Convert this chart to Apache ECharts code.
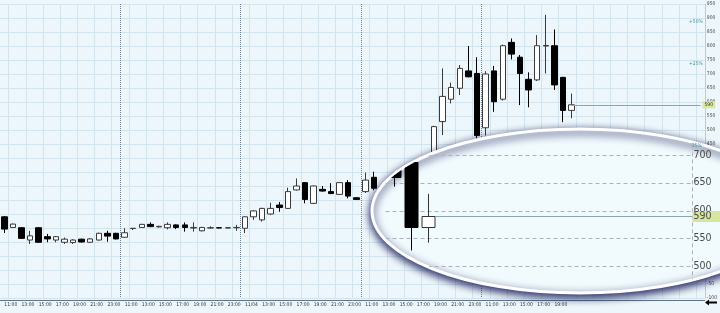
<!DOCTYPE html>
<html><head><meta charset="utf-8">
<script src="https://cdn.jsdelivr.net/npm/echarts@6/dist/echarts.min.js"></script>
<style>html,body{margin:0;padding:0;background:#edf6fa}#c{width:720px;height:313px}</style>
</head><body><div id="c"></div>
<script>
// ---- tick labels ----
const hours = ['11:00','12:00','13:00','14:00','15:00','16:00','17:00','18:00','19:00','20:00','21:00','22:00','23:00','00:00'];
const dayFirstLabel = ['11:00','11:00','11/04','11:00','11:00'];
const barsPerDay = [14,14,14,14,11];
const futureSlots = 15;
// ---- series values (hourly OHLC) ----
const opens = [190,152,151,107,151,119,107,99,98,110,99,107,131,131,
  117,148,152,163,154,151,161,161,150,140,150,151,150,151,
  149,190,179,200,232,220,286,312,238,288,280,270,312,258,
  280,331,292,298,312,330,350,372,398,530,610,649,711,702,
  508,711,610,813,760,681,679,800,801,688,570];
const closes = [146,164,113,122,99,111,119,110,107,100,111,131,121,111,
  133,149,163,155,156,163,152,152,152,152,151,150,151,152,
  190,211,220,220,223,280,300,252,300,282,273,312,264,252,
  321,292,298,312,330,350,372,395,512,620,652,720,690,480,
  700,601,801,771,702,643,801,802,661,570,590];
const lows = [132,150,111,93,97,99,99,93,93,98,97,105,101,109,
  115,143,150,153,152,145,146,137,137,138,148,149,149,140,
  132,179,173,196,208,218,284,238,236,280,271,268,256,250,
  275,285,286,294,305,325,345,365,392,482,595,625,688,470,
  480,565,605,752,589,581,675,702,643,528,542];
const highs = [193,166,153,140,153,129,121,116,110,112,114,133,140,133,
  149,150,165,170,158,170,163,170,170,154,156,152,152,161,
  192,213,222,240,243,294,327,314,302,300,310,314,321,260,
  348,351,302,320,338,360,380,400,515,720,669,732,800,760,
  710,729,805,827,768,706,839,911,859,690,630];
const pctLevels = [0.5, 0.25, -0.25];
const insetLevels = [500, 550, 600, 650, 700];

// ---- layout constants ----
const NARROW = "'Liberation Sans Narrow','DejaVu Sans Condensed','Arial Narrow',sans-serif";
const lens = {cx: 580, cy: 211, rx: 208, ry: 82};

// ---- build tables ----
const categories = [];
barsPerDay.forEach((n, d) => {
  for (let h = 0; h < n; h++) categories.push(h === 0 ? dayFirstLabel[d] : hours[h]);
});
const dataLen = categories.length;
for (let k = 0; k < futureSlots; k++) categories.push('');
const dayStarts = [];
{ let s = 0; barsPerDay.forEach(n => { dayStarts.push(s); s += n; }); }
const ohlc = opens.map((o, i) => [o, closes[i], lows[i], highs[i]]);
const lastIndex = dataLen - 1;
const lastClose = closes[lastIndex];
const insetFrom = lastIndex - 2;
const insetRows = [];
for (let i = insetFrom; i <= lastIndex; i++) insetRows.push([i, opens[i], closes[i], lows[i], highs[i]]);

const clipShape = {type: 'ellipse', shape: {cx: lens.cx, cy: lens.cy, rx: lens.rx - 1, ry: lens.ry - 1}};
const px = v => Math.round(v) + 0.5;

const option = {
  animation: false,
  backgroundColor: '#edf6fa',
  grid: [
    {left: 0, right: 14, top: 4, bottom: 15},
    {left: 385.5, width: 306, top: 138.35, height: 155.4}
  ],
  xAxis: [
    {type: 'category', gridIndex: 0, data: categories, boundaryGap: true, offset: 2,
     axisLine: {show: true, onZero: false, lineStyle: {color: '#5f7386', width: 1}},
     axisTick: {show: false},
     axisLabel: {interval: (i) => i < lastIndex && ((i - dayStarts.filter(s => s <= i).pop()) % 2 === 0),
                 align: 'left', fontSize: 5, color: '#333', margin: 2, fontFamily: NARROW},
     splitLine: {show: true, interval: (i) => i % 2 === 1, lineStyle: {color: '#d2e5ef', width: 1}}},
    {type: 'category', gridIndex: 0, data: categories, boundaryGap: true,
     axisLine: {show: false, onZero: false}, axisTick: {show: false}, axisLabel: {show: false},
     splitLine: {show: true, interval: (i) => i > 0 && dayStarts.includes(i),
                 lineStyle: {color: '#6f8090', type: 'dotted', width: 1}}},
    {type: 'category', gridIndex: 1, data: categories, boundaryGap: true,
     min: insetFrom, max: categories.length - 1, show: false, axisLine: {onZero: false}}
  ],
  yAxis: [
    {type: 'value', gridIndex: 0, position: 'right', min: -100, max: 950, interval: 50,
     axisLine: {show: true, onZero: false, lineStyle: {color: '#b8cddb'}}, axisTick: {show: false},
     axisLabel: {fontSize: 5, color: '#444', margin: 2, fontFamily: NARROW},
     splitLine: {show: true, lineStyle: {color: '#d2e5ef'}}},
    {type: 'value', gridIndex: 1, position: 'right', min: 450, max: 730, interval: 50, z: 20,
     axisLine: {show: false, onZero: false}, axisTick: {show: false}, splitLine: {show: false},
     axisLabel: {fontSize: 10.5, color: '#4a4a4a', margin: 2, fontFamily: NARROW,
                 formatter: v => (v >= insetLevels[0] && v <= insetLevels[insetLevels.length - 1]) ? String(v) : ''}}
  ],
  graphic: [
    {type: 'ellipse', z: 10, silent: true, shape: lens,
     style: {fill: '#f1fafd', stroke: '#ffffff', lineWidth: 3,
             shadowBlur: 8, shadowColor: 'rgba(18,22,85,1)', shadowOffsetY: 3}},
    {type: 'polygon', z: 10, silent: true,
     shape: {points: [[705,302.5],[709,299.5],[709,301.5],[717,301.5],[717,303.5],[709,303.5],[709,305.5]]},
     style: {fill: '#000'}}
  ],
  series: [
    {type: 'candlestick', xAxisIndex: 0, yAxisIndex: 0, data: ohlc, barWidth: 6,
     itemStyle: {color: '#ffffff', color0: '#000000', borderColor: '#3a3a3a', borderColor0: '#000000',
                 borderColorDoji: '#3a3a3a', borderWidth: 1},
     markLine: {symbol: ['none', 'none'], silent: true, animation: false,
       lineStyle: {color: '#8ea2b6', width: 1, type: 'solid'},
       label: {show: true, position: 'end', distance: 2, formatter: String(lastClose), fontSize: 5,
               color: '#333', backgroundColor: '#d8e7a2', padding: [1, 2], fontFamily: NARROW},
       data: [[{coord: [lastIndex, lastClose]}, {coord: [categories.length - 1, lastClose]}]]},
     markPoint: {z: 15, silent: true, symbol: 'rect', symbolSize: 1,
       itemStyle: {color: 'rgba(0,0,0,0)'},
       label: {show: true, position: 'inside', offset: [4, 0], formatter: p => p.name,
               color: '#3d9a9a', fontSize: 5, fontFamily: NARROW},
       data: pctLevels.map(p => ({name: (p > 0 ? '+' : '') + Math.round(p * 100) + '%',
                                  coord: [categories.length - 2, lastClose * (1 + p)]}))}
    },
    {type: 'custom', xAxisIndex: 2, yAxisIndex: 1, z: 20, silent: true,
     data: insetLevels.map(v => [insetFrom, v]),
     renderItem: (params, api) => {
       const cs = params.coordSys;
       const y = px(api.coord([api.value(0), api.value(1)])[1]);
       const children = [{type: 'line', clipPath: clipShape,
         shape: {x1: cs.x, y1: y, x2: cs.x + cs.width, y2: y},
         style: {stroke: '#aab3bc', lineWidth: 1, lineDash: [4, 3]}}];
       if (params.dataIndex === 0) {
         const xr = px(cs.x + cs.width);
         children.push({type: 'line', clipPath: clipShape,
           shape: {x1: xr, y1: cs.y, x2: xr, y2: cs.y + cs.height},
           style: {stroke: '#aab3bc', lineWidth: 1, lineDash: [4, 3]}});
       }
       return {type: 'group', children};
     }},
    {type: 'custom', xAxisIndex: 2, yAxisIndex: 1, z: 21, silent: true,
     encode: {x: 0, y: [1, 2, 3, 4]},
     data: insetRows,
     renderItem: (params, api) => {
       const cs = params.coordSys;
       const i = api.value(0), o = api.value(1), c = api.value(2), l = api.value(3), h = api.value(4);
       const x = px(api.coord([i, o])[0]);
       const yo = api.coord([i, o])[1], yc = api.coord([i, c])[1];
       const yl = api.coord([i, l])[1], yh = api.coord([i, h])[1];
       const w = Math.round(api.size([1, 0])[0] * 0.76);
       const up = c >= o;
       const top = Math.round(Math.min(yo, yc)) + 0.5;
       const hgt = Math.max(1, Math.round(Math.abs(yo - yc)));
       const children = [
         {type: 'line', clipPath: clipShape, shape: {x1: x, y1: yh, x2: x, y2: yl},
          style: {stroke: up ? '#333' : '#000', lineWidth: 1}},
         {type: 'rect', clipPath: clipShape, shape: {x: x - w / 2, y: top, width: w, height: hgt},
          style: {fill: up ? '#fff' : '#000', stroke: up ? '#333' : '#000', lineWidth: 1}}
       ];
       if (i === lastIndex) {
         const yp = px(yc);
         children.push({type: 'line', shape: {x1: x + w / 2, y1: yp, x2: cs.x + cs.width + 1, y2: yp},
           style: {stroke: '#8ea2b6', lineWidth: 1}});
         children.push({type: 'text', x: cs.x + cs.width + 1, y: yp,
           style: {text: String(c), fill: '#4a4a4a', font: '10.5px ' + NARROW,
                   align: 'left', verticalAlign: 'middle', textAlign: 'left', textVerticalAlign: 'middle',
                   backgroundColor: '#d6e6a0', padding: [0, 12, 0, 1]}});
       }
       return {type: 'group', children};
     }}
  ]
};
const chart = echarts.init(document.getElementById('c'), null, {renderer: 'canvas'});
chart.setOption(option);
</script></body></html>
